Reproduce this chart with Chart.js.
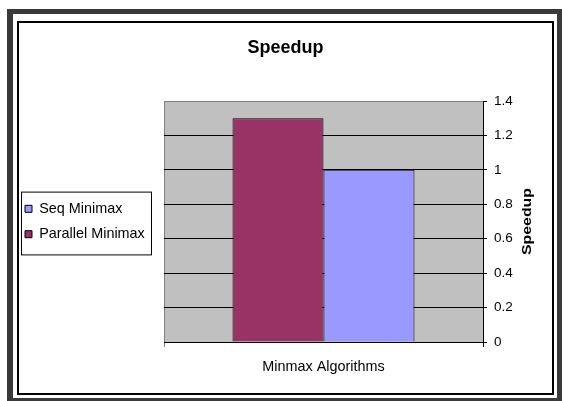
<!DOCTYPE html>
<html>
<head>
<meta charset="utf-8">
<title>Speedup</title>
<script src="https://cdn.jsdelivr.net/npm/chart.js@4.4.1/dist/chart.umd.min.js"></script>
<style>
  html, body { margin: 0; padding: 0; background: #ffffff; }
  #wrap { position: relative; width: 562px; height: 401px; }
  canvas { display: block; }
</style>
</head>
<body>
<div id="wrap"><canvas id="speedupChart" width="562" height="401"></canvas></div>
<script>
// chart data
const categories = ['Minmax Algorithms'];
const seriesNames = ['Seq Minimax', 'Parallel Minimax'];
const seqValues = [1.0];
const parallelValues = [1.3];
const yTickLabels = ['0', '0.2', '0.4', '0.6', '0.8', '1', '1.2', '1.4'];

const FONT = "'Liberation Sans', Arial, sans-serif";

// background: outer frame, inner frame, gray plot area
const framePlugin = {
  id: 'frame',
  beforeDraw(chart) {
    const ctx = chart.ctx;
    const a = chart.chartArea;
    ctx.save();
    ctx.fillStyle = '#ffffff';
    ctx.fillRect(0, 0, chart.width, chart.height);
    // thick dark outer border
    ctx.fillStyle = '#3a3a3a';
    ctx.fillRect(7, 9, chart.width - 7, chart.height - 9);
    ctx.fillStyle = '#ffffff';
    ctx.fillRect(13, 14, 544, 384);
    // thin black chart frame
    ctx.strokeStyle = '#000000';
    ctx.lineWidth = 2;
    ctx.strokeRect(18, 22, 535, 372);
    // plot area
    ctx.fillStyle = '#c0c0c0';
    ctx.fillRect(a.left, a.top, a.right - a.left, a.bottom - a.top);
    ctx.strokeStyle = '#808080';
    ctx.lineWidth = 1;
    ctx.beginPath();
    ctx.moveTo(a.left + 0.5, a.bottom);
    ctx.lineTo(a.left + 0.5, a.top + 0.5);
    ctx.lineTo(a.right, a.top + 0.5);
    ctx.stroke();
    ctx.restore();
  },
  afterDraw(chart) {
    const ctx = chart.ctx;
    const a = chart.chartArea;
    ctx.save();
    // chart title
    ctx.fillStyle = '#000000';
    ctx.font = 'bold 18px ' + FONT;
    ctx.textAlign = 'center';
    ctx.textBaseline = 'alphabetic';
    ctx.fillText('Speedup', 285.5, 52.5);
    // value axis title, reading upward
    ctx.translate(528, (a.top + a.bottom) / 2);
    ctx.rotate(-Math.PI / 2);
    ctx.scale(1.32, 1);
    ctx.font = 'bold 12px ' + FONT;
    ctx.textBaseline = 'middle';
    ctx.fillText('Speedup', 0, 0);
    ctx.restore();

    // legend border
    const boxes = chart.legend && chart.legend.legendHitBoxes;
    if (boxes && boxes.length) {
      const top = Math.min(...boxes.map(b => b.top));
      const bottom = Math.max(...boxes.map(b => b.top + b.height));
      ctx.save();
      ctx.strokeStyle = '#000000';
      ctx.lineWidth = 1;
      ctx.strokeRect(21.5, top - 9.5, 130, bottom - top + 23);
      ctx.restore();
    }
  }
};

// make the legend box take a fixed width so the plot starts where it should
const legendWidthPlugin = {
  id: 'legendWidth',
  afterInit(chart) {
    const lg = chart.legend;
    if (!lg) return;
    const fit = lg.fit;
    lg.fit = function () {
      fit.call(this);
      this.width = 150;
    };
  }
};

const ctx = document.getElementById('speedupChart').getContext('2d');
const chart = new Chart(ctx, {
  type: 'bar',
  data: {
    labels: categories,
    datasets: [
      {
        label: seriesNames[1],
        data: parallelValues,
        backgroundColor: '#993366',
        borderColor: '#000000',
        borderWidth: 1
      },
      {
        label: seriesNames[0],
        data: seqValues,
        backgroundColor: '#9999ff',
        borderColor: '#000000',
        borderWidth: 1
      }
    ]
  },
  options: {
    responsive: false,
    animation: false,
    devicePixelRatio: 1,
    layout: { padding: { left: 14, top: 101, right: 34, bottom: 26 } },
    datasets: { bar: { categoryPercentage: 0.5705, barPercentage: 1 } },
    plugins: {
      title: { display: false },
      tooltip: { enabled: false },
      legend: {
        position: 'left',
        align: 'center',
        fullSize: false,
        reverse: true,
        labels: {
          boxWidth: 7,
          boxHeight: 7,
          padding: 11,
          color: '#000000',
          font: { family: FONT, size: 14.4 }
        }
      }
    },
    scales: {
      x: {
        position: 'bottom',
        grid: {
          offset: true,
          drawOnChartArea: false,
          tickLength: 5,
          color: (c) => (c.index === 0 ? '#808080' : '#000000')
        },
        border: { display: true, color: '#000000', width: 1 },
        ticks: {
          color: '#000000',
          padding: 11,
          font: { family: FONT, size: 14.4 }
        },
        afterFit(scale) { scale.height = 33; }
      },
      y: {
        position: 'right',
        min: 0,
        max: 1.4,
        ticks: {
          stepSize: 0.2,
          padding: 7,
          color: '#000000',
          font: { family: FONT, size: 13.5 },
          callback: (v, i) => yTickLabels[i]
        },
        grid: {
          tickLength: 4,
          color: (c) => (c.tick && Math.abs(c.tick.value - 1.4) < 1e-6 ? '#808080' : '#000000'),
          tickColor: '#000000'
        },
        border: { display: true, color: '#000000', width: 1 },
        afterFit(scale) { scale.width = 45; }
      }
    }
  },
  plugins: [framePlugin, legendWidthPlugin]
});
</script>
</body>
</html>
